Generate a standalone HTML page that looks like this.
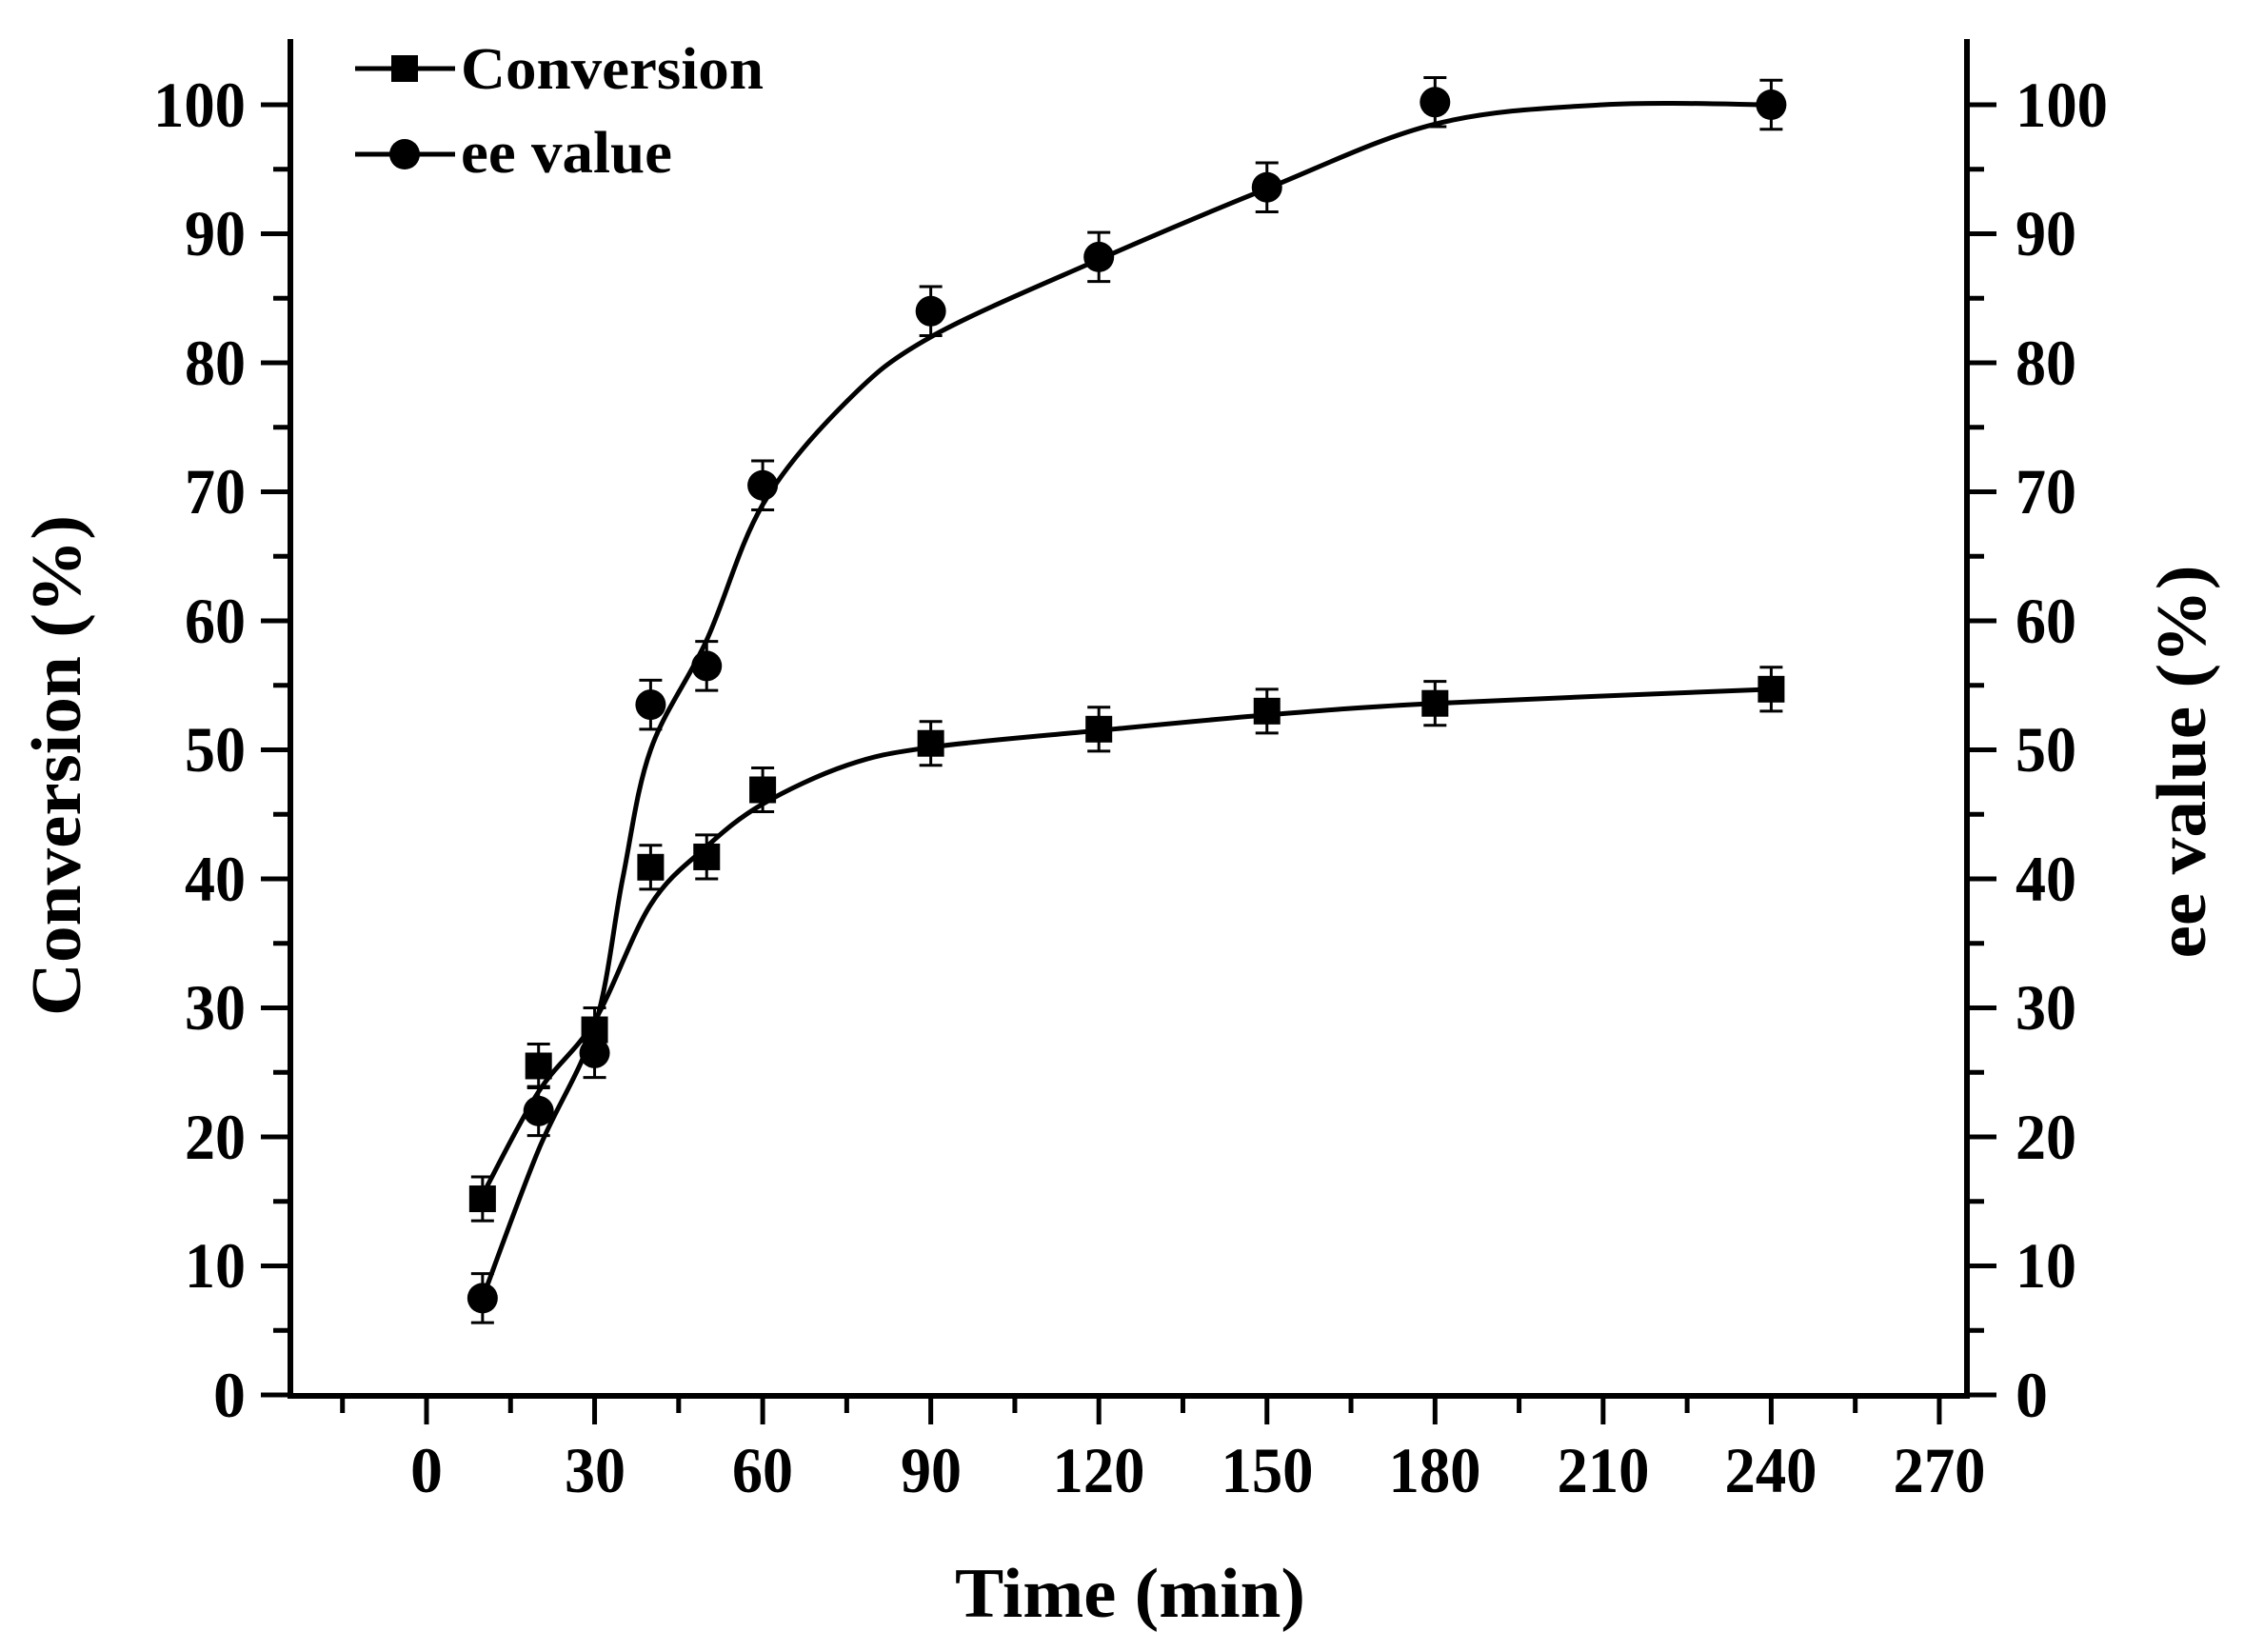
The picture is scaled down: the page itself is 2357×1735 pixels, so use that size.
<!DOCTYPE html>
<html><head><meta charset="utf-8"><style>
html,body{margin:0;padding:0;background:#fff;}
svg{display:block;}
text{font-family:"Liberation Serif",serif;font-weight:bold;fill:#000;}
</style></head><body>
<svg id="s" width="2357" height="1735" viewBox="0 0 2357 1735" xmlns="http://www.w3.org/2000/svg">
<g id="g"></g>
<g font-size="68" text-anchor="end" lengthAdjust="spacingAndGlyphs">
<text x="258" y="1488">0</text>
<text x="258" y="1352" textLength="64" lengthAdjust="spacingAndGlyphs">10</text>
<text x="258" y="1217" textLength="64" lengthAdjust="spacingAndGlyphs">20</text>
<text x="258" y="1081" textLength="64" lengthAdjust="spacingAndGlyphs">30</text>
<text x="258" y="946" textLength="64" lengthAdjust="spacingAndGlyphs">40</text>
<text x="258" y="810" textLength="64" lengthAdjust="spacingAndGlyphs">50</text>
<text x="258" y="675" textLength="64" lengthAdjust="spacingAndGlyphs">60</text>
<text x="258" y="539" textLength="64" lengthAdjust="spacingAndGlyphs">70</text>
<text x="258" y="404" textLength="64" lengthAdjust="spacingAndGlyphs">80</text>
<text x="258" y="268" textLength="64" lengthAdjust="spacingAndGlyphs">90</text>
<text x="258" y="133" textLength="97" lengthAdjust="spacingAndGlyphs">100</text>
</g>
<g font-size="68" text-anchor="start">
<text x="2117" y="1488">0</text>
<text x="2117" y="1352" textLength="64" lengthAdjust="spacingAndGlyphs">10</text>
<text x="2117" y="1217" textLength="64" lengthAdjust="spacingAndGlyphs">20</text>
<text x="2117" y="1081" textLength="64" lengthAdjust="spacingAndGlyphs">30</text>
<text x="2117" y="946" textLength="64" lengthAdjust="spacingAndGlyphs">40</text>
<text x="2117" y="810" textLength="64" lengthAdjust="spacingAndGlyphs">50</text>
<text x="2117" y="675" textLength="64" lengthAdjust="spacingAndGlyphs">60</text>
<text x="2117" y="539" textLength="64" lengthAdjust="spacingAndGlyphs">70</text>
<text x="2117" y="404" textLength="64" lengthAdjust="spacingAndGlyphs">80</text>
<text x="2117" y="268" textLength="64" lengthAdjust="spacingAndGlyphs">90</text>
<text x="2117" y="133" textLength="97" lengthAdjust="spacingAndGlyphs">100</text>
</g>
<g font-size="68" text-anchor="middle">
<text x="448" y="1567">0</text>
<text x="625" y="1567" textLength="64" lengthAdjust="spacingAndGlyphs">30</text>
<text x="801" y="1567" textLength="64" lengthAdjust="spacingAndGlyphs">60</text>
<text x="978" y="1567" textLength="64" lengthAdjust="spacingAndGlyphs">90</text>
<text x="1154" y="1567" textLength="97" lengthAdjust="spacingAndGlyphs">120</text>
<text x="1331" y="1567" textLength="97" lengthAdjust="spacingAndGlyphs">150</text>
<text x="1507" y="1567" textLength="97" lengthAdjust="spacingAndGlyphs">180</text>
<text x="1684" y="1567" textLength="97" lengthAdjust="spacingAndGlyphs">210</text>
<text x="1860" y="1567" textLength="97" lengthAdjust="spacingAndGlyphs">240</text>
<text x="2037" y="1567" textLength="97" lengthAdjust="spacingAndGlyphs">270</text>
</g>
<text x="1187" y="1698" font-size="74" text-anchor="middle" textLength="368" lengthAdjust="spacingAndGlyphs">Time (min)</text>
<text transform="translate(84,804) rotate(-90)" font-size="74" text-anchor="middle" textLength="526" lengthAdjust="spacingAndGlyphs">Conversion (%)</text>
<text transform="translate(2316,800) rotate(-90)" font-size="74" text-anchor="middle" textLength="413" lengthAdjust="spacingAndGlyphs">ee value (%)</text>
<text x="484" y="93" font-size="62" textLength="318" lengthAdjust="spacingAndGlyphs">Conversion</text>
<text x="484" y="181" font-size="62" textLength="222" lengthAdjust="spacingAndGlyphs">ee value</text>
</svg>
<script>
var NS="http://www.w3.org/2000/svg",g=document.getElementById("g");
function el(t,a){var e=document.createElementNS(NS,t);for(var k in a)e.setAttribute(k,a[k]);g.appendChild(e);return e;}
function X(t){return 448+t*5.885;}
function Y(v){return 1465-v*13.55;}
var L=305,R=2066,B=1466,T=41;
el("path",{d:"M"+L+" "+T+"V"+B+"H"+R+"V"+T,fill:"none",stroke:"#000","stroke-width":6});
for(var v=0;v<=100;v+=5){var y=Y(v),len=(v%10==0)?31:18;
el("line",{x1:L-len,y1:y,x2:L,y2:y,stroke:"#000","stroke-width":5});
el("line",{x1:R,y1:y,x2:R+len,y2:y,stroke:"#000","stroke-width":5});}
for(var t=-15;t<=270;t+=15){var x=X(t),len=(t%30==0)?30:18;
el("line",{x1:x,y1:B,x2:x,y2:B+len,stroke:"#000","stroke-width":5});}
function spline(p){var d="M"+X(p[0][0])+" "+Y(p[0][1]);
var P=p.map(function(q){return[X(q[0]),Y(q[1])];});
for(var i=0;i<P.length-1;i++){var p0=P[i-1]||P[i],p1=P[i],p2=P[i+1],p3=P[i+2]||P[i+1];
d+=" C"+(p1[0]+(p2[0]-p0[0])/6)+" "+(p1[1]+(p2[1]-p0[1])/6)+" "+(p2[0]-(p3[0]-p1[0])/6)+" "+(p2[1]-(p3[1]-p1[1])/6)+" "+p2[0]+" "+p2[1];}
el("path",{d:d,fill:"none",stroke:"#000","stroke-width":5});}
spline([[10,15.5],[20,23.5],[30,29],[40,38],[50,42.5],[60,45.8],[75,48.8],[90,50.2],[120,51.5],[150,52.7],[180,53.6],[240,54.7]]);
spline([[10,7.5],[20,19],[30,28.5],[35,40],[40,50],[50,58.5],[60,69],[75,77],[90,82],[120,88],[150,93.5],[180,98.5],[210,100],[240,100]]);
function eb(t,v,e){var x=X(t);el("line",{x1:x,y1:Y(v+e),x2:x,y2:Y(v-e),stroke:"#000","stroke-width":3});
el("line",{x1:x-12,y1:Y(v+e),x2:x+12,y2:Y(v+e),stroke:"#000","stroke-width":3});
el("line",{x1:x-12,y1:Y(v-e),x2:x+12,y2:Y(v-e),stroke:"#000","stroke-width":3});}
var C=[[10,15.2],[20,25.5],[30,28.3],[40,40.9],[50,41.7],[60,46.9],[90,50.5],[120,51.6],[150,53.0],[180,53.6],[240,54.7]];
var E=[[10,7.5],[20,22],[30,26.5],[40,53.5],[50,56.5],[60,70.5],[90,84],[120,88.2],[150,93.6],[180,100.2],[240,100]];
C.forEach(function(q){eb(q[0],q[1],1.7);el("rect",{x:X(q[0])-14,y:Y(q[1])-14,width:28,height:28,fill:"#000"});});
E.forEach(function(q){eb(q[0],q[1],1.9);el("circle",{cx:X(q[0]),cy:Y(q[1]),r:16,fill:"#000"});});
el("line",{x1:373,y1:72,x2:478,y2:72,stroke:"#000","stroke-width":5});
el("rect",{x:411,y:58,width:28,height:28,fill:"#000"});
el("line",{x1:373,y1:162,x2:478,y2:162,stroke:"#000","stroke-width":5});
el("circle",{cx:425,cy:162,r:16,fill:"#000"});
</script>
</body></html>
